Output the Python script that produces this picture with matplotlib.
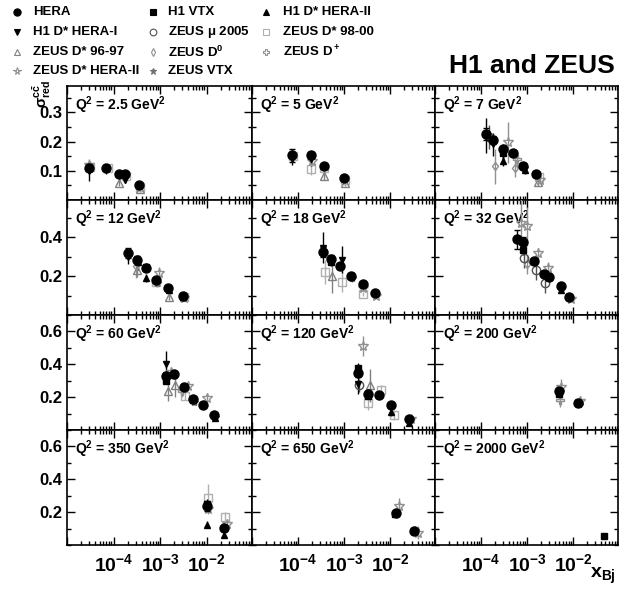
import numpy as np
import matplotlib
matplotlib.use("Agg")
import matplotlib.pyplot as plt
from matplotlib.ticker import LogLocator, MultipleLocator, NullFormatter, FixedLocator

plt.rcParams["font.family"] = ["Liberation Sans", "DejaVu Sans"]
plt.rcParams["font.weight"] = "bold"
plt.rcParams["mathtext.fontset"] = "custom"
plt.rcParams["mathtext.rm"] = "Liberation Sans:bold"
plt.rcParams["mathtext.it"] = "Liberation Sans:bold"
plt.rcParams["mathtext.bf"] = "Liberation Sans:bold"
plt.rcParams["mathtext.default"] = "bf"

# Q^2 bins (one panel each)
q2_bins = ["2.5", "5", "7", "12", "18", "32", "60", "120", "200", "350", "650", "2000"]

# data: (panel, x, sigma_red, error)
hera = [
    (0, 2.9e-5, 0.110, 0.012), (0, 6.8e-5, 0.109, 0.008), (0, 1.3e-4, 0.088, 0.006),
    (0, 1.8e-4, 0.088, 0.006), (0, 3.5e-4, 0.051, 0.005),
    (1, 7.3e-5, 0.153, 0.022), (1, 1.9e-4, 0.153, 0.012), (1, 3.6e-4, 0.115, 0.008),
    (1, 1.0e-3, 0.075, 0.006),
    (2, 1.3e-4, 0.225, 0.020), (2, 1.8e-4, 0.205, 0.015), (2, 3.0e-4, 0.173, 0.012),
    (2, 4.9e-4, 0.161, 0.010), (2, 8.0e-4, 0.118, 0.008), (2, 1.56e-3, 0.089, 0.006),
    (3, 2.1e-4, 0.319, 0.025), (3, 3.2e-4, 0.284, 0.018), (3, 5.0e-4, 0.239, 0.014),
    (3, 8.2e-4, 0.181, 0.010), (3, 1.52e-3, 0.141, 0.008), (3, 3.1e-3, 0.098, 0.006),
    (4, 3.55e-4, 0.322, 0.025), (4, 5.3e-4, 0.288, 0.018), (4, 8.3e-4, 0.253, 0.014),
    (4, 1.45e-3, 0.202, 0.010), (4, 2.55e-3, 0.160, 0.008), (4, 4.8e-3, 0.115, 0.007),
    (5, 6.0e-4, 0.388, 0.050), (5, 8.0e-4, 0.374, 0.025), (5, 1.39e-3, 0.276, 0.015),
    (5, 2.36e-3, 0.212, 0.012), (5, 3.0e-3, 0.195, 0.010), (5, 5.4e-3, 0.150, 0.009),
    (5, 8.2e-3, 0.091, 0.007),
    (6, 1.35e-3, 0.329, 0.025), (6, 1.95e-3, 0.339, 0.020), (6, 3.2e-3, 0.262, 0.015),
    (6, 5.2e-3, 0.190, 0.012), (6, 8.2e-3, 0.155, 0.010), (6, 1.47e-2, 0.091, 0.008),
    (7, 2.0e-3, 0.350, 0.025), (7, 3.4e-3, 0.221, 0.020), (7, 5.85e-3, 0.211, 0.015),
    (7, 1.05e-2, 0.155, 0.012), (7, 2.55e-2, 0.066, 0.008),
    (8, 5.0e-3, 0.235, 0.020), (8, 1.3e-2, 0.163, 0.015),
    (9, 1.0e-2, 0.237, 0.030), (9, 2.4e-2, 0.104, 0.020),
    (10, 1.35e-2, 0.196, 0.020), (10, 3.4e-2, 0.083, 0.015),
]
h1_vtx = [
    (2, 3.0e-4, 0.160, 0.020), (2, 8.0e-4, 0.115, 0.015),
    (3, 5.0e-4, 0.245, 0.020), (4, 5.3e-4, 0.270, 0.020), (4, 1.45e-3, 0.200, 0.015),
    (5, 8.0e-4, 0.336, 0.030), (5, 2.4e-3, 0.210, 0.020),
    (6, 1.35e-3, 0.300, 0.020), (6, 5.2e-3, 0.180, 0.015),
    (7, 2.0e-3, 0.375, 0.030), (7, 3.4e-3, 0.210, 0.020),
    (8, 5.0e-3, 0.220, 0.020), (9, 1.0e-2, 0.250, 0.030),
    (10, 1.3e-2, 0.190, 0.020), (10, 3.3e-2, 0.085, 0.015),
    (11, 4.8e-2, 0.057, 0.008),
]
h1_dstar_2 = [
    (2, 3.0e-4, 0.135, 0.020), (2, 9.0e-4, 0.103, 0.015),
    (3, 3.3e-4, 0.270, 0.040), (3, 5.0e-4, 0.188, 0.020), (3, 1.55e-3, 0.130, 0.010),
    (3, 3.1e-3, 0.090, 0.008),
    (5, 5.5e-3, 0.130, 0.015), (6, 1.5e-2, 0.075, 0.010),
    (7, 1.05e-2, 0.107, 0.020), (7, 2.55e-2, 0.040, 0.010),
    (9, 1.0e-2, 0.124, 0.020), (9, 2.4e-2, 0.063, 0.015),
]
h1_dstar_1 = [
    (0, 3.0e-5, 0.100, 0.035), (0, 7.0e-5, 0.105, 0.015), (0, 1.8e-4, 0.070, 0.012),
    (1, 7.5e-5, 0.140, 0.020), (1, 1.95e-4, 0.140, 0.025),
    (2, 1.3e-4, 0.220, 0.060), (2, 1.8e-4, 0.190, 0.040), (2, 3.0e-4, 0.160, 0.030),
    (3, 2.1e-4, 0.300, 0.040),
    (4, 3.5e-4, 0.345, 0.080), (4, 8.9e-4, 0.284, 0.070),
    (6, 1.35e-3, 0.401, 0.080), (7, 2.0e-3, 0.280, 0.060),
]
zeus_mu = [
    (2, 1.5e-4, 0.215, 0.040),
    (5, 8.8e-4, 0.290, 0.050), (5, 1.56e-3, 0.230, 0.050), (5, 2.5e-3, 0.164, 0.050),
    (7, 2.15e-3, 0.272, 0.040),
]
zeus_dstar_9800 = [
    (0, 3.1e-5, 0.113, 0.020), (0, 7.5e-5, 0.108, 0.012), (0, 1.9e-4, 0.082, 0.010),
    (0, 3.8e-4, 0.045, 0.008),
    (1, 7.6e-5, 0.150, 0.015), (1, 1.95e-4, 0.105, 0.020), (1, 3.7e-4, 0.110, 0.010),
    (1, 1.05e-3, 0.070, 0.008),
    (2, 1.84e-3, 0.077, 0.010),
    (3, 8.0e-4, 0.170, 0.020), (3, 3.2e-3, 0.090, 0.010),
    (4, 3.9e-4, 0.221, 0.060), (4, 8.9e-4, 0.169, 0.050), (4, 2.6e-3, 0.108, 0.012),
    (6, 3.5e-3, 0.210, 0.030),
    (7, 3.4e-3, 0.163, 0.040), (7, 6.4e-3, 0.246, 0.030), (7, 1.2e-2, 0.090, 0.030),
    (9, 1.05e-2, 0.289, 0.080), (9, 2.5e-2, 0.169, 0.030),
]
zeus_dstar_9697 = [
    (0, 1.3e-4, 0.058, 0.010), (0, 3.8e-4, 0.036, 0.008),
    (1, 3.7e-4, 0.081, 0.012), (1, 1.05e-3, 0.057, 0.010),
    (2, 1.7e-3, 0.060, 0.012),
    (3, 3.2e-4, 0.233, 0.040), (3, 1.55e-3, 0.091, 0.012),
    (4, 5.5e-4, 0.202, 0.090),
    (6, 1.52e-3, 0.235, 0.060), (6, 2.1e-3, 0.273, 0.070),
    (7, 3.67e-3, 0.272, 0.100),
]
zeus_d0 = [
    (2, 2.0e-4, 0.116, 0.060), (2, 5.5e-4, 0.109, 0.030),
    (3, 3.0e-4, 0.250, 0.060), (5, 1.0e-3, 0.260, 0.050),
]
zeus_dplus = [
    (2, 6.2e-4, 0.141, 0.030), (6, 3.0e-3, 0.240, 0.040), (8, 5.3e-3, 0.180, 0.040),
]
zeus_dstar_2 = [
    (0, 3.0e-5, 0.120, 0.020), (1, 2.0e-4, 0.135, 0.020),
    (2, 3.8e-4, 0.197, 0.070), (2, 1.9e-3, 0.070, 0.015),
    (3, 9.7e-4, 0.215, 0.030), (3, 3.3e-3, 0.085, 0.010),
    (4, 2.6e-3, 0.140, 0.015), (4, 5.0e-3, 0.100, 0.012),
    (5, 7.4e-4, 0.472, 0.150), (5, 9.8e-4, 0.456, 0.100), (5, 1.7e-3, 0.316, 0.030),
    (5, 2.9e-3, 0.241, 0.030), (5, 9.0e-3, 0.080, 0.015),
    (6, 1.74e-3, 0.355, 0.030), (6, 4.0e-3, 0.266, 0.030), (6, 1.0e-2, 0.194, 0.030),
    (7, 2.55e-3, 0.510, 0.060), (7, 2.8e-2, 0.070, 0.015),
    (8, 5.4e-3, 0.260, 0.050), (8, 1.4e-2, 0.175, 0.030),
    (9, 1.1e-2, 0.220, 0.030), (9, 2.7e-2, 0.130, 0.030),
    (10, 1.6e-2, 0.237, 0.050), (10, 4.1e-2, 0.075, 0.040),
]
zeus_vtx = [
    (2, 8.5e-4, 0.110, 0.015), (3, 8.5e-4, 0.165, 0.020), (4, 1.5e-3, 0.190, 0.020),
    (5, 2.6e-3, 0.200, 0.025), (6, 5.5e-3, 0.170, 0.020), (6, 1.5e-2, 0.080, 0.015),
    (8, 1.35e-2, 0.160, 0.020), (10, 3.5e-2, 0.090, 0.020),
]

# name, data, marker, face, edge, size, capsize
datasets = [
    ("ZEUS D* 98-00", zeus_dstar_9800, "s", "none", "#b0b0b0", 6, 0),
    ("ZEUS D* 96-97", zeus_dstar_9697, "^", "none", "#808080", 6, 0),
    ("ZEUS D$^0$", zeus_d0, "d", "none", "#909090", 4.5, 0),
    ("ZEUS D$^+$", zeus_dplus, "P", "none", "#909090", 6, 0),
    ("ZEUS D* HERA-II", zeus_dstar_2, "*", "none", "#909090", 7, 0),
    ("ZEUS VTX", zeus_vtx, "*", "#707070", "#707070", 6, 0),
    ("ZEUS $\\mu$ 2005", zeus_mu, "o", "none", "#505050", 6, 0),
    ("H1 D* HERA-I", h1_dstar_1, "v", "black", "black", 5, 0),
    ("H1 D* HERA-II", h1_dstar_2, "^", "black", "black", 5, 0),
    ("H1 VTX", h1_vtx, "s", "black", "black", 5, 0),
    ("HERA", hera, "o", "black", "black", 6.5, 2.5),
]
style = {d[0]: d[2:6] for d in datasets}

W, H = 619, 590
fig = plt.figure(figsize=(W / 100, H / 100), dpi=100)

col_left = [67, 252, 435]
col_w = [185, 183, 183]
row_top = [86, 200, 315, 430]
row_h = [114, 115, 115, 115]
row_ylim = [0.39, 0.59, 0.70, 0.70]
row_major = [0.1, 0.2, 0.2, 0.2]
row_minor = [0.05, 0.1, 0.1, 0.1]

axes = []
for i, q2 in enumerate(q2_bins):
    r, c = divmod(i, 3)
    ax = fig.add_axes([col_left[c] / W, 1 - (row_top[r] + row_h[r]) / H,
                       col_w[c] / W, row_h[r] / H])
    ax.set_xscale("log")
    ax.set_xlim(1e-5, 0.095)
    ax.set_ylim(0, row_ylim[r])
    ax.xaxis.set_major_locator(FixedLocator([1e-5, 1e-4, 1e-3, 1e-2]))
    ax.xaxis.set_minor_locator(LogLocator(base=10, subs=np.arange(2, 10)))
    ax.xaxis.set_minor_formatter(NullFormatter())
    ticks = np.arange(row_major[r], row_ylim[r] - 0.01, row_major[r])
    ax.set_yticks(ticks)
    ax.yaxis.set_minor_locator(MultipleLocator(row_minor[r]))
    ax.tick_params(which="both", direction="in", top=True, right=True, width=1)
    ax.tick_params(which="major", length=6)
    ax.tick_params(which="minor", length=3)
    if c == 0:
        ax.set_yticklabels(["%g" % t for t in ticks], fontsize=12, fontweight="bold")
    else:
        ax.set_yticklabels([])
    if r == 3:
        ax.set_xticklabels(["", "$10^{-4}$", "$10^{-3}$", "$10^{-2}$"], fontsize=14)
        ax.tick_params(axis="x", which="major", pad=6)
    else:
        ax.set_xticklabels([])
    for s in ax.spines.values():
        s.set_linewidth(1.2)
    ax.text(0.045, 0.93, "Q$^2$ = %s GeV$^2$" % q2, transform=ax.transAxes,
            fontsize=10, fontweight="bold", va="top", ha="left")
    axes.append(ax)

for name, data, marker, face, edge, ms, cap in datasets:
    for p, x, y, e in data:
        axes[p].errorbar(x, y, yerr=e, fmt=marker, mfc=face, mec=edge, ecolor=edge,
                         ms=ms, mew=1, elinewidth=1, capsize=cap, capthick=1,
                         zorder=3 if name != "HERA" else 4, clip_on=True)

# legend
leg = fig.add_axes([0, 1 - 86 / H, 1, 86 / H])
leg.set_xlim(0, W)
leg.set_ylim(86, 0)
leg.axis("off")
legend_cols = [
    (17, 33, ["HERA", "H1 D* HERA-I", "ZEUS D* 96-97", "ZEUS D* HERA-II"]),
    (153, 168, ["H1 VTX", "ZEUS $\\mu$ 2005", "ZEUS D$^0$", "ZEUS VTX"]),
    (266, 283, ["H1 D* HERA-II", "ZEUS D* 98-00", "ZEUS D$^+$"]),
]
row_y = [12, 32, 52, 71]
for mx, tx, names in legend_cols:
    for j, nm in enumerate(names):
        marker, face, edge, ms = style[nm]
        leg.plot(mx, row_y[j], marker=marker, mfc=face, mec=edge, ms=ms * 0.8, mew=0.8)
        leg.text(tx, row_y[j], nm, fontsize=9.5, fontweight="bold", va="center", ha="left")

fig.text(615 / W, 1 - 66 / H, "H1 and ZEUS", fontsize=19, fontweight="bold",
         ha="right", va="center")
fig.text(42 / W, 1 - 80 / H, r"$\sigma^{c\bar{c}}_{red}$", fontsize=11,
         rotation=90, ha="center", va="top")
fig.text(616 / W, 1 - 586 / H, r"$x_{Bj}$", fontsize=14, ha="right", va="bottom")

fig.savefig("out.png", dpi=100)
